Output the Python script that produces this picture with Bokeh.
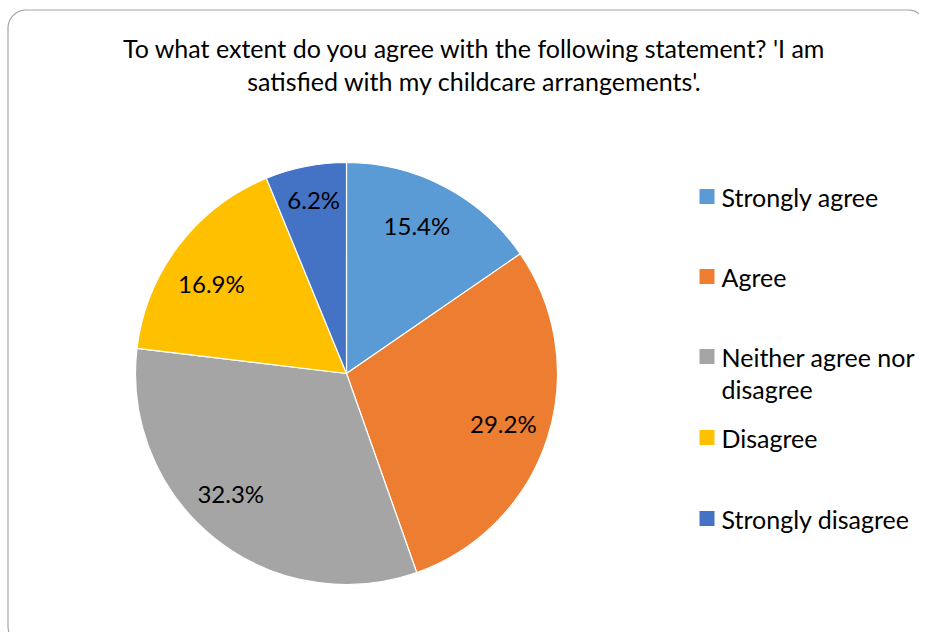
import numpy as np
import textwrap
from bokeh.plotting import figure
from bokeh.models import Range1d, ColumnDataSource
from bokeh.core.properties import value
from bokeh.embed import file_html
from bokeh.resources import INLINE

# ---- data ----
title_lines = ["To what extent do you agree with the following statement? 'I am",
               "satisfied with my childcare arrangements'."]
categories = ["Strongly agree", "Agree", "Neither agree nor disagree", "Disagree", "Strongly disagree"]
percent = [15.4, 29.2, 32.3, 16.9, 6.2]
colors = ["#5B9BD5", "#ED7D31", "#A5A5A5", "#FFC000", "#4472C4"]

FONT = "Lato"
W, H = 919, 632
PAGE_H = 640

def Y(py):
    return PAGE_H - py

p = figure(width=W, height=H, output_backend="svg", toolbar_location=None,
           x_range=Range1d(0, W), y_range=Range1d(PAGE_H - H, PAGE_H),
           x_axis_type=None, y_axis_type=None, min_border=0)
p.grid.visible = False
p.outline_line_color = None
p.background_fill_color = "white"
p.border_fill_color = "white"

# ---- rounded chart border ----
r = 18
x0, y0, x1, y1 = 7.5, 9.5, 925.5, 644
pts = []
for (cx, cy, a0) in [(x0 + r, y0 + r, 180), (x1 - r, y0 + r, 270), (x1 - r, y1 - r, 0), (x0 + r, y1 - r, 90)]:
    a = np.radians(np.linspace(a0, a0 + 90, 14))
    pts += [(cx + r * np.cos(t), cy + r * np.sin(t)) for t in a]
pts.append(pts[0])
p.line([q[0] for q in pts], [Y(q[1]) for q in pts], line_color="#A6A6A6", line_width=1.2)

# ---- title ----
p.text(x=[474] * len(title_lines), y=[Y(47), Y(80)], text=title_lines,
       text_font=value(FONT), text_font_size="25px", text_color="#000000",
       text_align="center", text_baseline="middle")

# ---- pie ----
CX, CY, R = 346, Y(373), 211
frac = np.array(percent) / sum(percent)
cum = np.concatenate([[0], np.cumsum(frac)])
start = np.pi / 2 - cum[:-1] * 2 * np.pi
end = np.pi / 2 - cum[1:] * 2 * np.pi
src = ColumnDataSource(dict(start=start, end=end, color=colors))
p.wedge(x=CX, y=CY, radius=R, start_angle="start", end_angle="end", direction="clock",
        fill_color="color", line_color="white", line_width=1.2, source=src)

# label placement (Excel best-fit style): radius fraction and angular nudge
mid = (start + end) / 2
lr = np.array([0.775, 0.78, 0.79, 0.77, 0.84]) * R
nudge = np.radians([2.2, 0.3, -5.3, 3.5, -0.5])
ang = mid + nudge
labels = [f"{v:.1f}%" for v in percent]
p.text(x=CX + lr * np.cos(ang), y=CY + lr * np.sin(ang), text=labels,
       text_font=value(FONT), text_font_size="24px", text_color="#000000",
       text_align="center", text_baseline="middle")

# ---- legend ----
leg_y = [196, 276, 356, 437, 518]
lx, ly, lt = [], [], []
for cat, yy in zip(categories, leg_y):
    for i, line in enumerate(textwrap.wrap(cat, 18)):
        lx.append(721)
        ly.append(Y(yy + i * 32))
        lt.append(line)
p.rect(x=[706.5] * len(categories), y=[Y(v) for v in leg_y], width=15, height=15,
       width_units="screen", height_units="screen", fill_color=colors, line_color=None)
p.text(x=lx, y=ly, text=lt, text_font=value(FONT), text_font_size="25px",
       text_color="#000000", text_align="left", text_baseline="middle")

open("out.html", "w").write(file_html(p, INLINE))
